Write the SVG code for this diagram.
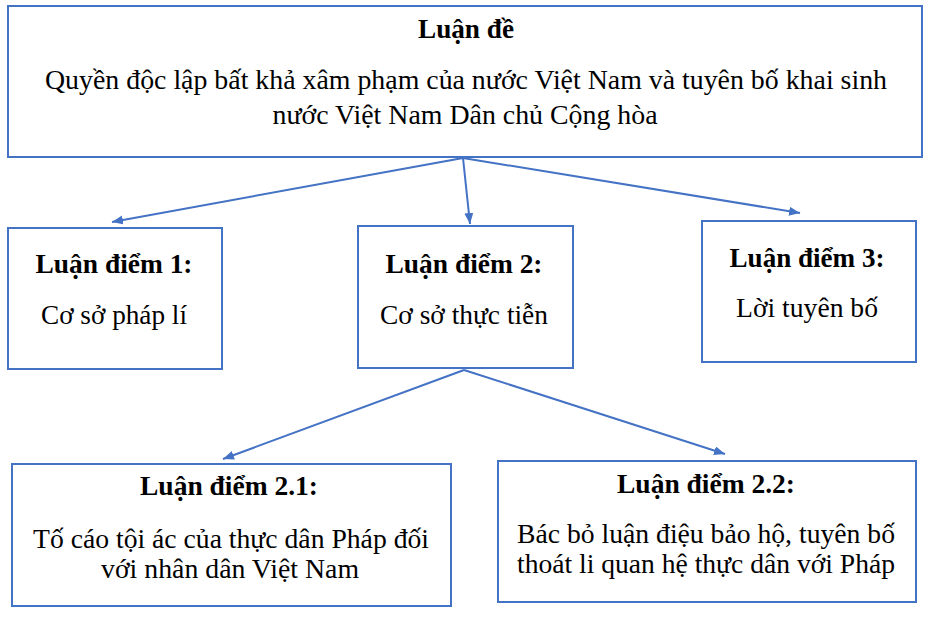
<svg xmlns="http://www.w3.org/2000/svg" width="935" height="633" viewBox="0 0 935 633">
<defs>
<marker id="ah" markerUnits="userSpaceOnUse" markerWidth="12" markerHeight="10" refX="11" refY="4.5" orient="auto">
<path d="M0,0 L11,4.5 L0,9 z" fill="#4472C4"/>
</marker>
<style>
.box{fill:#ffffff;stroke:#4472C4;stroke-width:2}
.t{font-family:"Liberation Serif","Times New Roman",serif;font-size:27px;fill:#000;text-anchor:middle}
.b{font-weight:bold}
.c{stroke:#4472C4;stroke-width:2;fill:none;marker-end:url(#ah)}
</style>
</defs>
<rect width="935" height="633" fill="#ffffff"/>
<g id="connectors">
<line class="c" x1="463" y1="158" x2="112" y2="222"/>
<line class="c" x1="463" y1="158" x2="470" y2="224"/>
<line class="c" x1="463" y1="158" x2="800" y2="213"/>
<line class="c" x1="464" y1="370" x2="223" y2="459"/>
<line class="c" x1="464" y1="370" x2="725" y2="454"/>
</g>
<g id="luan-de">
<rect class="box" x="8" y="6" width="914" height="151"/>
<text class="t b" x="466" y="38" textLength="96" lengthAdjust="spacingAndGlyphs">Luận đề</text>
<text class="t" x="466" y="89" textLength="842" lengthAdjust="spacingAndGlyphs">Quyền độc lập bất khả xâm phạm của nước Việt Nam và tuyên bố khai sinh</text>
<text class="t" x="465" y="124" textLength="385" lengthAdjust="spacingAndGlyphs">nước Việt Nam Dân chủ Cộng hòa</text>
</g>
<g id="luan-diem-1">
<rect class="box" x="8" y="228" width="214" height="141"/>
<text class="t b" x="114" y="273" textLength="157" lengthAdjust="spacingAndGlyphs">Luận điểm 1:</text>
<text class="t" x="114" y="324" textLength="146" lengthAdjust="spacingAndGlyphs">Cơ sở pháp lí</text>
</g>
<g id="luan-diem-2">
<rect class="box" x="358" y="226" width="215" height="142"/>
<text class="t b" x="464" y="273" textLength="157" lengthAdjust="spacingAndGlyphs">Luận điểm 2:</text>
<text class="t" x="464" y="324" textLength="168" lengthAdjust="spacingAndGlyphs">Cơ sở thực tiễn</text>
</g>
<g id="luan-diem-3">
<rect class="box" x="702" y="221" width="214" height="141"/>
<text class="t b" x="807" y="267" textLength="155" lengthAdjust="spacingAndGlyphs">Luận điểm 3:</text>
<text class="t" x="807" y="317" textLength="142" lengthAdjust="spacingAndGlyphs">Lời tuyên bố</text>
</g>
<g id="luan-diem-2-1">
<rect class="box" x="12" y="464" width="439" height="142"/>
<text class="t b" x="229" y="495" textLength="178" lengthAdjust="spacingAndGlyphs">Luận điểm 2.1:</text>
<text class="t" x="231" y="548" textLength="396" lengthAdjust="spacingAndGlyphs">Tố cáo tội ác của thực dân Pháp đối</text>
<text class="t" x="230" y="578" textLength="258" lengthAdjust="spacingAndGlyphs">với nhân dân Việt Nam</text>
</g>
<g id="luan-diem-2-2">
<rect class="box" x="498" y="461" width="418" height="141"/>
<text class="t b" x="706" y="493" textLength="178" lengthAdjust="spacingAndGlyphs">Luận điểm 2.2:</text>
<text class="t" x="706" y="543" textLength="378" lengthAdjust="spacingAndGlyphs">Bác bỏ luận điệu bảo hộ, tuyên bố</text>
<text class="t" x="706" y="573" textLength="378" lengthAdjust="spacingAndGlyphs">thoát li quan hệ thực dân với Pháp</text>
</g>
</svg>
